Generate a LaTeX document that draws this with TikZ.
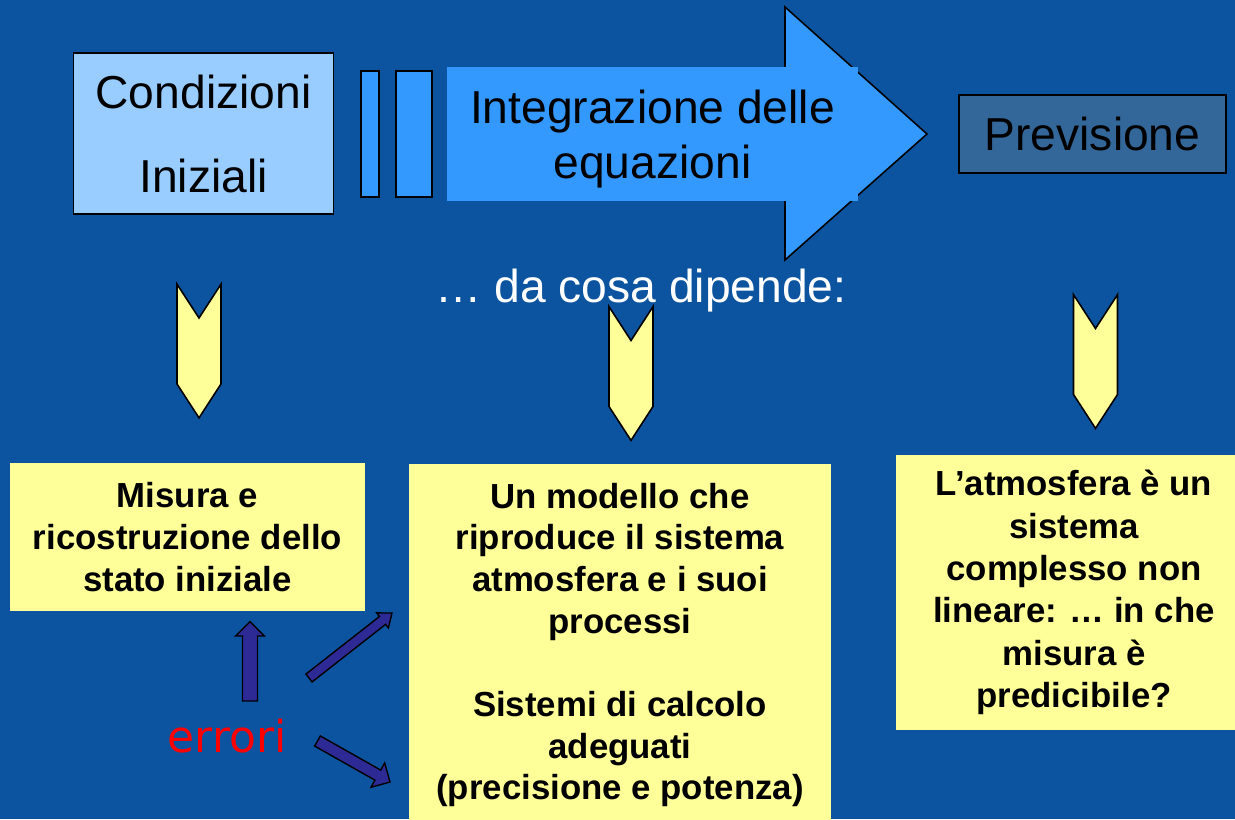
\documentclass[tikz,border=0pt]{standalone}
\usepackage{fontspec}
\setmainfont{Liberation Sans}
\newfontfamily\errfont{DejaVu Sans}
\usetikzlibrary{calc,shapes.symbols}
\definecolor{slide}{RGB}{13,84,160}
\definecolor{skyblue}{RGB}{153,204,255}
\definecolor{arrowblue}{RGB}{51,153,255}
\definecolor{steel}{RGB}{51,102,153}
\definecolor{notefill}{RGB}{255,255,153}
\definecolor{errblue}{RGB}{45,42,150}
% block arrow from #1 to #2: shaft half width, head half width, head length
\newcommand{\blockarrow}[5]{%
  \coordinate (ba) at ($(#2)!#5!(#1)$);
  \draw[errarr] ($(#1)!#3!90:(#2)$) -- ($(ba)!#3!90:(#2)$) -- ($(ba)!#4!90:(#2)$)
    -- (#2) -- ($(ba)!#4!-90:(#2)$) -- ($(ba)!#3!-90:(#2)$) -- ($(#1)!#3!-90:(#2)$) -- cycle;}

\begin{document}
\begin{tikzpicture}[
  x=0.02cm, y=-0.02cm,
  every node/.style={inner sep=0pt},
  big/.style={font=\fontsize{26.3pt}{31.3pt}\selectfont, align=center},
  bar/.style={draw, line width=0.9pt, fill=arrowblue, minimum height=2.52cm},
  notebox/.style={fill=notefill, align=center, font=\bfseries\fontsize{19.8pt}{23.7pt}\selectfont},
  chev/.style={shape=signal, signal from=north, signal to=south, signal pointer angle=66,
    draw, line width=0.9pt, fill=notefill, minimum width=0.88cm, minimum height=1.32cm},
  errarr/.style={draw, line width=0.8pt, fill=errblue, line join=miter}
]
\path[use as bounding box, clip] (0,0) rectangle (1235,819);
\fill[slide] (0,0) rectangle (1235,819);
% top row
\node[draw, line width=0.9pt, fill=skyblue, minimum width=5.2cm, minimum height=3.22cm,
  big, font=\fontsize{26.3pt}{47.8pt}\selectfont] (cond) at (203.5,133.5) {Condizioni\\Iniziali};
\node[bar, minimum width=0.36cm] (bar1) at (370,134) {};
\node[bar, minimum width=0.72cm] (bar2) at (414,134) {};
\draw[line width=0.9pt, fill=arrowblue] (785,7) -- (927,134) -- (785,260) -- cycle;
\node[big, fill=arrowblue, minimum width=8.22cm, minimum height=2.68cm] (integ) at (652.5,134)
  {\rule{0pt}{25pt}Integrazione delle\\equazioni};
\node[big, draw, line width=0.9pt, fill=steel, minimum width=5.34cm, minimum height=1.56cm]
  (prev) at (1092.5,134) {Previsione};
\node[big, text=white, anchor=base] (quest) at (641,302) {… da cosa dipende:};
% chevrons
\node[chev] (chev1) at (199,351) {};
\node[chev] (chev2) at (631,373.5) {};
\node[chev] (chev3) at (1095.5,361.5) {};
% bottom boxes
\node[notebox, minimum width=7.1cm, minimum height=2.96cm] (meas) at (187.5,537)
  {Misura e\\ricostruzione dello\\stato iniziale};
\node[notebox, minimum width=8.44cm, minimum height=7.24cm] (model) at (620,645)
  {Un modello che\\riproduce il sistema\\atmosfera e i suoi\\processi\\[23.7pt]Sistemi di calcolo\\adeguati\\(precisione e potenza)};
\node[notebox, font=\bfseries\fontsize{19.8pt}{24.1pt}\selectfont, minimum width=7.12cm,
  minimum height=5.52cm] (atmo) at (1074,592.5)
  {L’atmosfera è un\\sistema\\complesso non\\lineare: … in che\\misura è\\predicibile?};
% errors
\node[text=red, font=\errfont\fontsize{25pt}{30pt}\selectfont, anchor=base] (err) at (227,752) {errori};
\coordinate (upTail) at (250,701);
\coordinate (upTip) at (250,621.5);
\coordinate (midTail) at (309,678);
\coordinate (midTip) at (392,613);
\coordinate (lowTail) at (317.5,741);
\coordinate (lowTip) at (390,782);
\blockarrow{upTail}{upTip}{0.15cm}{0.29cm}{0.29cm}
\blockarrow{midTail}{midTip}{0.1cm}{0.19cm}{0.24cm}
\blockarrow{lowTail}{lowTip}{0.116cm}{0.28cm}{0.28cm}
\end{tikzpicture}
\end{document}
